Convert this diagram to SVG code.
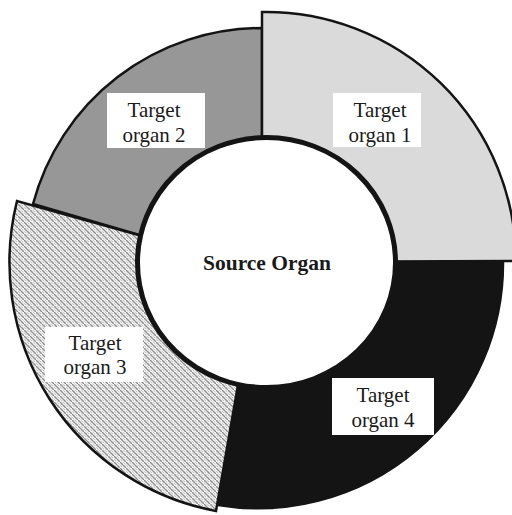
<svg xmlns="http://www.w3.org/2000/svg" width="512" height="515" viewBox="0 0 512 515">
<style>
.seg{stroke:#141414;stroke-width:2.5;stroke-linejoin:miter}
.lbl{fill:#ffffff;stroke:none}
.t{font-family:"Liberation Serif","Times New Roman",serif;font-size:21px;fill:#1a1a1a;text-anchor:middle}
.src{font-family:"Liberation Serif","Times New Roman",serif;font-size:21.5px;font-weight:bold;fill:#1a1a1a;text-anchor:middle}
</style>
<defs>
<pattern id="dots" width="6" height="6" patternUnits="userSpaceOnUse">
<rect width="6" height="6" fill="#f2f2f2"/>
<path d="M0.5,0.5 L2.5,2.5 M3.5,3.5 L5.5,5.5" stroke="#8c8c8c" stroke-width="1.4" stroke-linecap="round"/>
<path d="M3.5,0.5 L5.0,2.0 M0.5,3.5 L2.0,5.0" stroke="#bdbdbd" stroke-width="1" stroke-linecap="round"/>
</pattern>
</defs>
<rect width="512" height="515" fill="#ffffff"/>
<g id="target-organ-2">
<path class="seg" d="M262 262 L262 28 A237 237 0 0 0 33 204 L160 241 Z" fill="#979797"/>
</g>
<g id="target-organ-4">
<path class="seg" d="M503 261 A245 245 0 0 1 218 505 L242 362 L266 261 Z" fill="#141414"/>
</g>
<g id="target-organ-1">
<path class="seg" d="M262 262 L262 12 A250 250 0 0 1 516 261 Z" fill="#dadada"/>
</g>
<g id="target-organ-3">
<path class="seg" d="M17 201 A253 253 0 0 0 216 511 L242 362 L160 241 Z" fill="url(#dots)"/>
</g>
<g id="connectors"></g>
<g id="source-organ">
<ellipse cx="266.5" cy="262.5" rx="129" ry="125" fill="#ffffff" stroke="#141414" stroke-width="5"/>
<text class="src" x="267" y="270">Source Organ</text>
</g>
<g id="label-1">
<rect class="lbl" x="333" y="93" width="88" height="54"/>
<text class="t" x="380" y="117">Target</text>
<text class="t" x="380" y="141.5">organ 1</text>
</g>
<g id="label-2">
<rect class="lbl" x="107" y="93" width="98" height="55"/>
<text class="t" x="154" y="116.5">Target</text>
<text class="t" x="154" y="141.5">organ 2</text>
</g>
<g id="label-3">
<rect class="lbl" x="45" y="327" width="98" height="55"/>
<text class="t" x="95" y="349.5">Target</text>
<text class="t" x="95" y="373.5">organ 3</text>
</g>
<g id="label-4">
<rect class="lbl" x="332" y="378" width="102" height="57" stroke="#141414" stroke-width="1"/>
<text class="t" x="383" y="402">Target</text>
<text class="t" x="383" y="427">organ 4</text>
</g>
</svg>
